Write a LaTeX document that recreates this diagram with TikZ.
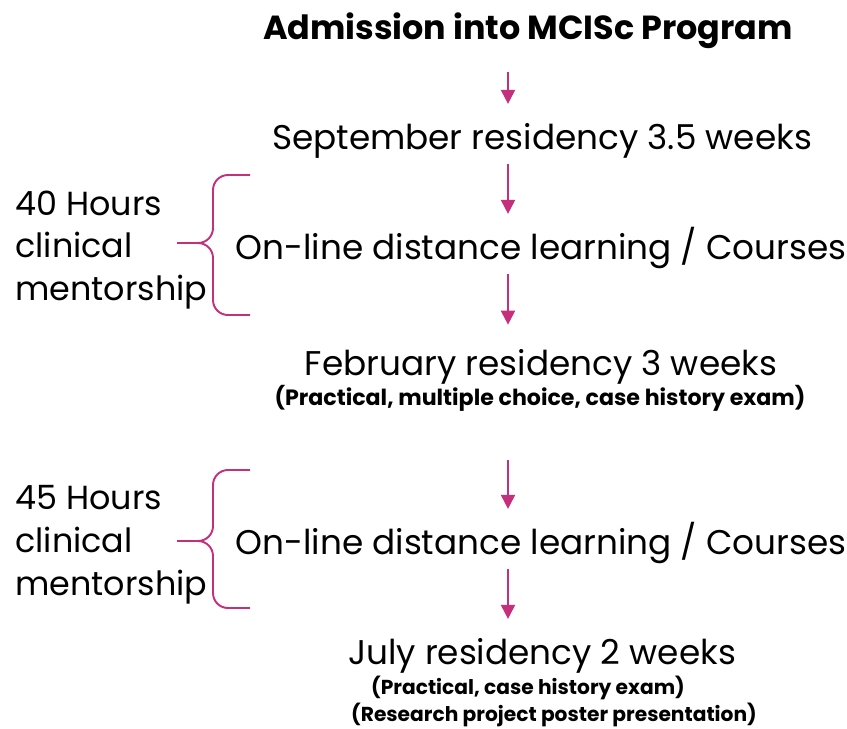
\documentclass[tikz,border=0pt]{standalone}
\usepackage{fontspec}
\setmainfont{Poppins}
\usetikzlibrary{arrows.meta}
\definecolor{mcpink}{RGB}{196,48,124}
\tikzset{
  stage/.style={inner sep=0pt, text height=0.5cm, text depth=0.15cm, font=\fontsize{19.5}{24}\selectfont},
  exam/.style={inner sep=0pt, text height=0.3cm, text depth=0.1cm, font=\fontsize{11.5}{14}\selectfont\bfseries},
  hours/.style={inner sep=0pt, anchor=west, align=left, font=\fontsize{19}{24.4}\selectfont},
  flow/.style={draw=mcpink, line width=1.1pt, -{Triangle[width=8pt,length=8pt]}, shorten <=0.12cm, shorten >=0.41cm},
  brc/.style={draw=mcpink, line width=1.1pt}
}
\begin{document}
\begin{tikzpicture}[x=0.02cm,y=-0.02cm]
\useasboundingbox (0,0) rectangle (847,728);
%\draw[help lines, step=50] (0,0) grid (847,728);
\coordinate(ax) at (508,0);
\node[stage, font=\fontsize{19}{24}\selectfont\bfseries](title) at (528,31) {Admission into MCISc Program};
\node[stage](sept) at (542,141) {September residency 3.5 weeks};
\node[stage](onl1) at (541,251) {On-line distance learning / Courses};
\node[stage](feb) at (541,367) {February residency 3 weeks};
\node[exam, font=\fontsize{12.6}{14}\selectfont\bfseries](febx) at (540,400) {(Practical, multiple choice, case history exam)};
\node[stage](onl2) at (541,546) {On-line distance learning / Courses};
\node[stage](jul) at (542,656) {July residency 2 weeks};
\node[exam](julx1) at (528,689) {(Practical, case history exam)};
\node[exam](julx2) at (554,716) {(Research project poster presentation)};

\node[hours](hrs1) at (15,250) {40 Hours\\clinical\\mentorship};
\node[hours](hrs2) at (15,545) {45 Hours\\clinical\\mentorship};

\draw[flow, shorten <=0.495cm](title.south -| ax)--(sept.north -| ax);
\draw[flow](sept.south -| ax)--(onl1.north -| ax);
\draw[flow, shorten >=0.515cm](onl1.south -| ax)--(feb.north -| ax);
\draw[flow, shorten <=1.0cm](febx.south -| ax)--(onl2.north -| ax);
\draw[flow](onl2.south -| ax)--(jul.north -| ax);

% braces
\coordinate(tip1) at (177,243);
\coordinate(tip2) at (177,541);
\draw[brc](tip1) -- ++(21,0) to[out=0,in=-90] ++(15,-15) -- ++(0,-38) to[out=90,in=180] ++(15,-15) -- ++(22,0)
  (tip1) ++(21,0) to[out=0,in=90] ++(15,15) -- ++(0,42) to[out=-90,in=180] ++(15,15) -- ++(22,0);
\draw[brc](tip2) -- ++(21,0) to[out=0,in=-90] ++(15,-15) -- ++(0,-41) to[out=90,in=180] ++(15,-15) -- ++(22,0)
  (tip2) ++(21,0) to[out=0,in=90] ++(15,15) -- ++(0,37) to[out=-90,in=180] ++(15,15) -- ++(22,0);
\end{tikzpicture}
\end{document}
